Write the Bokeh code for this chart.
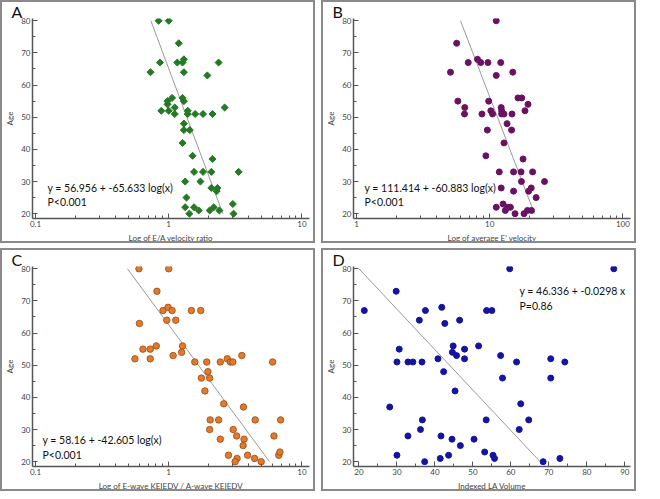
import math
from bokeh.plotting import figure
from bokeh.layouts import column, row
from bokeh.models import FixedTicker, Label
from bokeh.embed import file_html
from bokeh.resources import INLINE

# ---- data ----
a_x = [0.84, 1.0, 1.19, 0.86, 1.16, 1.27, 1.30, 2.37, 0.73, 1.30, 1.95, 1.06, 0.98, 0.98, 1.27,
       1.30, 0.88, 1.0, 1.11, 1.11, 1.39, 1.39, 1.58, 1.81, 2.13, 2.63, 1.30, 1.30, 1.44, 1.27,
       1.51, 2.13, 1.55, 1.81, 2.09, 3.35, 1.33, 1.73, 2.09, 2.32, 2.29, 1.36, 1.33, 1.55, 2.18,
       3.03, 1.43, 1.68, 2.03, 2.40, 3.07]
a_y = [80, 80, 73, 67, 67, 67, 68, 67, 64, 64, 63, 56, 55, 54, 56, 55, 52, 52, 53, 51, 52, 51, 51,
       51, 51, 53, 48, 46, 46, 42, 38, 37, 33, 33, 33, 33, 30, 30, 28, 28, 27, 25, 22, 22, 22, 23,
       20, 21, 21, 21, 20]
a_fit_x = [0.735, 2.55]
a_fit_y = [80, 20]

b_x = [11.2, 5.65, 6.9, 8.1, 8.57, 9.7, 12.1, 5.08, 11.2, 14.9, 5.77, 9.83, 6.5, 6.47, 8.75,
       10.2, 10.5, 12.2, 12.3, 12.3, 12.8, 14.7, 16.3, 17.4, 19.4, 18.4, 13.5, 9.6, 14.6, 12.8,
       9.36, 17.8, 11.8, 15.1, 17.2, 21.0, 25.8, 17.3, 12.2, 20.5, 19.6, 15.1, 22.3, 11.2, 13.7,
       14.3, 12.6, 13.1, 19.2, 20.6, 15.5, 18.1]
b_y = [80, 73, 67, 68, 67, 67, 67, 64, 63, 64, 55, 55, 53, 51, 51, 52, 51, 53, 52, 51, 51, 51, 56,
       56, 54, 52, 48, 46, 46, 42, 38, 37, 33, 33, 33, 33, 30, 30, 28, 28, 27, 27, 25, 22, 22, 22,
       23, 21, 21, 21, 20, 20]
b_fit_x = [6.04, 21.7]
b_fit_y = [80, 20]

c_x = [0.598, 1.0, 0.816, 0.603, 0.906, 0.989, 1.06, 0.967, 1.13, 1.48, 1.74, 0.558, 0.641, 0.727,
       0.727, 0.807, 1.08, 1.25, 1.27, 1.57, 1.93, 2.44, 2.75, 2.9, 3.03, 3.54, 6.03, 1.97, 1.76,
       2.03, 1.87, 2.59, 3.64, 2.05, 2.37, 4.46, 6.92, 2.03, 3.05, 3.24, 6.17, 2.44, 3.68, 3.62,
       2.81, 3.91, 6.70, 6.84, 3.26, 4.41, 3.15, 4.95]
c_y = [80, 80, 73, 63, 67, 68, 67, 64, 64, 67, 67, 52, 55, 55, 52, 56, 53, 54, 56, 51, 51, 51, 52,
       51, 51, 53, 51, 48, 46, 46, 42, 38, 37, 33, 33, 33, 33, 30, 30, 28, 28, 27, 27, 25, 22, 22,
       22, 23, 21, 21, 20, 20]
c_fit_x = [0.49, 5.71]
c_fit_y = [80, 20]

d_x = [59.7, 87.1, 21.4, 29.8, 37.5, 35.9, 41.8, 42.6, 46.5, 53.6, 55.0, 30.6, 30.0, 32.9, 34.2,
       36.6, 40.8, 44.8, 44.6, 45.7, 47.8, 47.8, 51.5, 57.3, 61.5, 70.5, 74.2, 42.3, 57.8, 70.5,
       45.3, 28.1, 62.6, 36.7, 53.5, 64.7, 36.2, 62.2, 32.9, 41.6, 44.5, 50.3, 46.7, 53.1, 30.0,
       43.6, 55.3, 55.7, 41.4, 72.9, 37.3, 68.5]
d_y = [80, 80, 67, 73, 67, 64, 68, 63, 64, 67, 67, 55, 51, 51, 51, 51, 52, 56, 54, 53, 55, 52, 56,
       53, 51, 52, 51, 48, 46, 46, 42, 37, 38, 33, 33, 33, 30, 30, 28, 28, 27, 27, 25, 23, 22, 22,
       22, 21, 21, 21, 20, 20]
d_fit_x = [20, 67.7]
d_fit_y = [80, 20]

y_ticks = [20, 30, 40, 50, 60, 70, 80]
y_minor = [25, 35, 45, 55, 65, 75]
log_minor_01 = [0.2, 0.3, 0.4, 0.5, 0.6, 0.7, 0.8, 0.9, 2, 3, 4, 5, 6, 7, 8, 9]
log_minor_1 = [2, 3, 4, 5, 6, 7, 8, 9, 20, 30, 40, 50, 60, 70, 80, 90]
d_ticks = [20, 30, 40, 50, 60, 70, 80, 90]
d_minor = [25, 35, 45, 55, 65, 75, 85]

W, H = 315, 243
FONT = "Lato"


def make_panel(letter, xtype, xr, xticks, xminor, xlabel, overrides):
    p = figure(width=W, height=H, x_axis_type=xtype, x_range=xr, y_range=(18.5, 80.7),
               output_backend="svg", toolbar_location=None, title=letter,
               min_border_left=26, min_border_right=8, min_border_top=0, min_border_bottom=27)
    p.styles = {"border": "2px solid #8a8a8a"}
    p.title.text_font = FONT
    p.title.text_font_size = "16px"
    p.title.text_font_style = "normal"
    p.title.text_color = "#111111"
    p.title.align = "left"
    p.title.offset = -21
    p.title.standoff = -5
    p.grid.visible = False
    p.outline_line_color = None
    p.xaxis.ticker = FixedTicker(ticks=xticks, minor_ticks=xminor)
    p.yaxis.ticker = FixedTicker(ticks=y_ticks, minor_ticks=y_minor)
    if overrides:
        p.xaxis.major_label_overrides = overrides
    p.xaxis.axis_label = xlabel
    p.yaxis.axis_label = "Age"
    for ax in (p.xaxis, p.yaxis):
        ax.axis_line_color = "#555555"
        ax.axis_line_width = 1.5
        ax.major_tick_line_color = "#555555"
        ax.minor_tick_line_color = "#555555"
        ax.major_tick_in = 5
        ax.major_tick_out = 0
        ax.minor_tick_in = 3
        ax.minor_tick_out = 0
        ax.major_label_text_font_size = "8px"
        ax.major_label_text_color = "#444444"
        ax.major_label_text_font = FONT
        ax.axis_label_text_font_size = "8px"
        ax.axis_label_text_font_style = "normal"
        ax.axis_label_text_color = "#444444"
        ax.axis_label_text_font = FONT
        ax.major_label_standoff = 2
        ax.axis_label_standoff = 3
    return p


def eq_labels(p, x, y1, y2, t1, t2):
    for y, t in ((y1, t1), (y2, t2)):
        p.add_layout(Label(x=x, y=y, x_units="screen", y_units="screen", text=t,
                           text_font=FONT, text_font_size="10.5px", text_color="#111111",
                           text_baseline="middle"))


pa = make_panel("A", "log", (0.095, 11.4), [0.1, 1, 10], log_minor_01, "Log of E/A velocity ratio",
                {0.1: "0.1", 1: "1", 10: "10"})
pa.line(a_fit_x, a_fit_y, line_color="#9a9a9a", line_width=1)
pa.scatter(a_x, a_y, marker="square", angle=math.pi / 4, size=5, fill_color="#237a23",
           line_color="#237a23")
eq_labels(pa, 15, 31, 17, "y = 56.956 + -65.633 log(x)", "P<0.001")

pb = make_panel("B", "log", (0.95, 114), [1, 10, 100], log_minor_1, "Log of average E' velocity",
                {1: "1", 10: "10", 100: "100"})
pb.line(b_fit_x, b_fit_y, line_color="#9a9a9a", line_width=1)
pb.scatter(b_x, b_y, marker="circle", size=6, fill_color="#6a1262", line_color="#6a1262")
eq_labels(pb, 11, 31, 17, "y = 111.414 + -60.883 log(x)", "P<0.001")

pc = make_panel("C", "log", (0.095, 11.4), [0.1, 1, 10], log_minor_01,
                "Log of E-wave KEIEDV / A-wave KEIEDV", {0.1: "0.1", 1: "1", 10: "10"})
pc.line(c_fit_x, c_fit_y, line_color="#9a9a9a", line_width=1)
pc.scatter(c_x, c_y, marker="circle", size=6.5, fill_color="#e2792c", line_color="#9a4a12",
           line_width=0.8)
eq_labels(pc, 10, 27, 12, "y = 58.16 + -42.605 log(x)", "P<0.001")

pd_ = make_panel("D", "linear", (18.56, 91.5), d_ticks, d_minor, "Indexed LA Volume", None)
pd_.line(d_fit_x, d_fit_y, line_color="#9a9a9a", line_width=1)
pd_.scatter(d_x, d_y, marker="circle", size=6, fill_color="#1414a0", line_color="#1414a0")
eq_labels(pd_, 166, 176, 161, "y = 46.336 + -0.0298 x", "P=0.86")

layout = column(row(pa, pb, spacing=6), row(pc, pd_, spacing=6), spacing=5)

with open("out.html", "w") as f:
    f.write(file_html(layout, INLINE))
